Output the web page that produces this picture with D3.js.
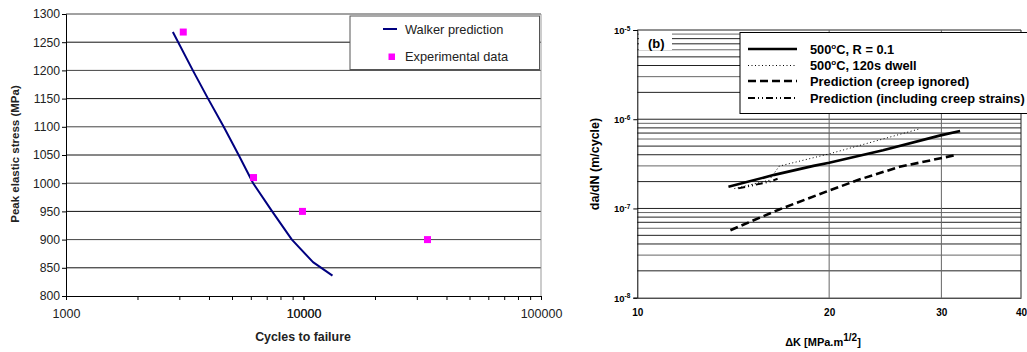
<!DOCTYPE html>
<html>
<head>
<meta charset="utf-8">
<script src="https://cdn.jsdelivr.net/npm/d3@7/dist/d3.min.js"></script>
<style>
  body { margin: 0; background: #fff; }
  svg { display: block; font-family: Arial, "Liberation Sans", sans-serif; }
</style>
</head>
<body>
<svg id="chart" width="1027" height="352"></svg>
<script>
// ---- left chart data ----
var walkerCycles = [2818, 3420, 3963, 4613, 5333, 6138, 7379, 8933, 10965, 13243];
var walkerStress = [1268, 1200, 1150, 1100, 1050, 1000, 950, 900, 860, 836];
var expCycles = [3117, 6160, 9900, 33270];
var expStress = [1268, 1010, 950, 900];
var stressTicks = [800, 850, 900, 950, 1000, 1050, 1100, 1150, 1200, 1250, 1300];
var cycleLabels = [1000, 10000, 100000];

// ---- right chart data ----
var r01K = [13.9, 16.4, 18.9, 20.0, 24.3, 29.8, 32.1];
var r01Rate = [1.75e-7, 2.38e-7, 3.0e-7, 3.25e-7, 4.5e-7, 6.55e-7, 7.39e-7];
var dwellK = [14.2, 16.1, 16.7, 20.1, 27.6];
var dwellRate = [1.67e-7, 2.07e-7, 2.98e-7, 4.13e-7, 7.73e-7];
var noCreepK = [14.0, 16.7, 20.1, 22.3, 25.8, 31.5];
var noCreepRate = [5.71e-8, 9.75e-8, 1.61e-7, 2.11e-7, 2.93e-7, 3.95e-7];
var creepK = [14.4, 16.1, 16.6];
var creepRate = [1.68e-7, 1.99e-7, 2.15e-7];
var kTicks = [10, 20, 30, 40];
var rateDecades = [1e-8, 1e-7, 1e-6, 1e-5];
var legendNames = ["500\u00B0C, R = 0.1", "500\u00B0C, 120s dwell", "Prediction (creep ignored)", "Prediction (including creep strains)"];

var svg = d3.select("#chart");

// ================= left chart =================
var xL = d3.scaleLog().domain([1000, 100000]).range([66, 541]);
var yL = d3.scaleLinear().domain([800, 1300]).range([296, 14]);
var left = svg.append("g");

// gridlines
left.selectAll("line.grid").data(stressTicks.slice(1)).enter().append("line")
  .attr("x1", 66).attr("x2", 541)
  .attr("y1", function(d) { return yL(d); }).attr("y2", function(d) { return yL(d); })
  .attr("stroke", function(d, i) { return i % 2 ? "#444" : "#111"; })
  .attr("stroke-width", 1);
left.append("line").attr("x1", 541).attr("x2", 541).attr("y1", yL(1300)).attr("y2", yL(800))
  .attr("stroke", "#999");

// axes
var yAxisL = d3.axisLeft(yL).tickValues(stressTicks).tickSize(4).tickFormat(d3.format("d"));
left.append("g").attr("transform", "translate(66,0)").call(yAxisL)
  .call(function(g) {
    g.select(".domain").attr("stroke", "#000");
    g.selectAll("text").attr("font-size", 12.2).attr("fill", "#222").attr("x", -6);
  });
var minorCycles = [];
for (var e = 1000; e < 100000; e *= 10) for (var m = 1; m <= 10; m++) minorCycles.push(e * m);
var xAxisL = d3.axisBottom(xL).tickValues(minorCycles).tickSize(4)
  .tickFormat(function(d) { return cycleLabels.indexOf(d) >= 0 ? d : ""; });
left.append("g").attr("transform", "translate(0,296)").call(xAxisL)
  .call(function(g) {
    g.select(".domain").attr("stroke", "#000");
    g.selectAll("text").attr("font-size", 12.5).attr("fill", "#222").attr("y", 13);
  });

// Walker prediction
var walkerLine = d3.line()
  .x(function(d, i) { return xL(walkerCycles[i]); })
  .y(function(d, i) { return yL(walkerStress[i]); });
left.append("path").datum(walkerCycles).attr("d", walkerLine)
  .attr("fill", "none").attr("stroke", "#000080").attr("stroke-width", 2)
  .attr("stroke-linejoin", "round");

// experimental data
left.selectAll("rect.exp").data(expCycles).enter().append("rect")
  .attr("x", function(d) { return xL(d) - 3.5; })
  .attr("y", function(d, i) { return yL(expStress[i]) - 3.5; })
  .attr("width", 7).attr("height", 7).attr("fill", "#ff00ff");

// legend
var legL = left.append("g");
legL.append("rect").attr("x", 350).attr("y", 16).attr("width", 189.5).attr("height", 53.5)
  .attr("fill", "#fff").attr("stroke", "#555");
legL.append("line").attr("x1", 383).attr("x2", 397).attr("y1", 29).attr("y2", 29)
  .attr("stroke", "#000080").attr("stroke-width", 2);
legL.append("text").attr("x", 405).attr("y", 33.5).attr("font-size", 12.8).attr("fill", "#222").text("Walker prediction");
legL.append("rect").attr("x", 388.5).attr("y", 53.5).attr("width", 6.5).attr("height", 6.5).attr("fill", "#ff00ff");
legL.append("text").attr("x", 405).attr("y", 61).attr("font-size", 12.8).attr("fill", "#222").text("Experimental data");

// titles
left.append("text").attr("x", 303).attr("y", 341).attr("text-anchor", "middle")
  .attr("font-size", 12.4).attr("font-weight", "bold").attr("fill", "#222").text("Cycles to failure");
left.append("text").attr("transform", "translate(19,154) rotate(-90)").attr("text-anchor", "middle")
  .attr("font-size", 11.5).attr("font-weight", "bold").attr("fill", "#222").text("Peak elastic stress (MPa)");

// ================= right chart =================
var xR = d3.scaleLog().domain([10, 40]).range([637.3, 1021]);
var yR = d3.scaleLog().domain([1e-8, 1e-5]).range([297.7, 30]);
var right = svg.append("g");

var minorRates = [];
rateDecades.slice(0, 3).forEach(function(dec) {
  for (var k = 2; k <= 10; k++) minorRates.push(dec * k);
});
right.selectAll("line.hgrid").data(minorRates).enter().append("line")
  .attr("x1", 637.3).attr("x2", 1021)
  .attr("y1", function(d) { return yR(d); }).attr("y2", function(d) { return yR(d); })
  .attr("stroke", function(d, i) { return i % 3 === 1 ? "#666" : "#222"; })
  .attr("stroke-width", 1);
right.selectAll("line.vgrid").data(kTicks.slice(1)).enter().append("line")
  .attr("x1", function(d) { return xR(d); }).attr("x2", function(d) { return xR(d); })
  .attr("y1", yR(1e-5)).attr("y2", yR(1e-8))
  .attr("stroke", function(d) { return d === 40 ? "#222" : "#666"; });

// axes
var yAxisR = d3.axisLeft(yR).tickValues(rateDecades).tickSize(4).tickFormat("");
right.append("g").attr("transform", "translate(637.3,0)").call(yAxisR)
  .call(function(g) { g.select(".domain").attr("stroke", "#000"); })
  .selectAll(".tick").append("text")
  .attr("x", -7).attr("y", 3.5).attr("text-anchor", "end").attr("fill", "#000")
  .attr("font-size", 9.5).attr("font-weight", "bold")
  .each(function(d) {
    var t = d3.select(this);
    t.append("tspan").text("10");
    t.append("tspan").attr("dy", -3.5).attr("font-size", 6.5).text(Math.round(Math.log10(d)));
  });
var xAxisR = d3.axisBottom(xR).tickValues(kTicks).tickSize(0).tickFormat(d3.format("d"));
right.append("g").attr("transform", "translate(0,297.7)").call(xAxisR)
  .call(function(g) {
    g.select(".domain").attr("stroke", "#000");
    g.selectAll("text").attr("font-size", 10).attr("font-weight", "bold").attr("fill", "#000").attr("y", 11);
  });

// "(b)" label
right.append("rect").attr("x", 639).attr("y", 33).attr("width", 33).attr("height", 17).attr("fill", "#fff");
right.append("text").attr("x", 648).attr("y", 47.5).attr("font-size", 13).attr("font-weight", "bold").text("(b)");

// series
var series = [
  { k: r01K, r: r01Rate, width: 2.6, dash: null },
  { k: dwellK, r: dwellRate, width: 1, dash: "1,2.5" },
  { k: noCreepK, r: noCreepRate, width: 2.6, dash: "8,4" },
  { k: creepK, r: creepRate, width: 2, dash: "7,3,1,3,1,3" }
];
var order = [3, 1, 2, 0];
order.forEach(function(si) {
  var s = series[si];
  var line = d3.line()
    .x(function(d, i) { return xR(s.k[i]); })
    .y(function(d, i) { return yR(s.r[i]); });
  right.append("path").datum(s.k).attr("d", line)
    .attr("fill", "none").attr("stroke", "#000").attr("stroke-width", s.width)
    .attr("stroke-dasharray", s.dash);
});

// legend
var legR = right.append("g");
legR.append("rect").attr("x", 740).attr("y", 32.5).attr("width", 300).attr("height", 81)
  .attr("fill", "#fff").attr("stroke", "#000");
var rowsY = [49, 65.5, 81, 98];
legendNames.forEach(function(name, i) {
  var s = series[i];
  legR.append("line").attr("x1", 748).attr("x2", 797).attr("y1", rowsY[i]).attr("y2", rowsY[i])
    .attr("stroke", "#000").attr("stroke-width", s.width).attr("stroke-dasharray", s.dash);
  var t = legR.append("text").attr("x", 810).attr("y", rowsY[i] + 4.5)
    .attr("font-size", 12.8).attr("font-weight", "bold");
  if (name.indexOf("\u00B0C") > 0) {
    var parts = name.split("\u00B0");
    t.append("tspan").text(parts[0]);
    t.append("tspan").attr("dy", -5).attr("font-size", 8).text("o");
    t.append("tspan").attr("dy", 5).text(parts[1]);
  } else {
    t.text(name);
  }
});

// titles
var xt = right.append("text").attr("x", 823).attr("y", 346).attr("text-anchor", "middle")
  .attr("font-size", 11).attr("font-weight", "bold");
xt.append("tspan").text("\u0394K [MPa.m");
xt.append("tspan").attr("dy", -5).attr("font-size", 10).text("1/2");
xt.append("tspan").attr("dy", 5).text("]");
right.append("text").attr("transform", "translate(599,164) rotate(-90)").attr("text-anchor", "middle")
  .attr("font-size", 12.5).attr("font-weight", "bold").text("da/dN (m/cycle)");
</script>
</body>
</html>
